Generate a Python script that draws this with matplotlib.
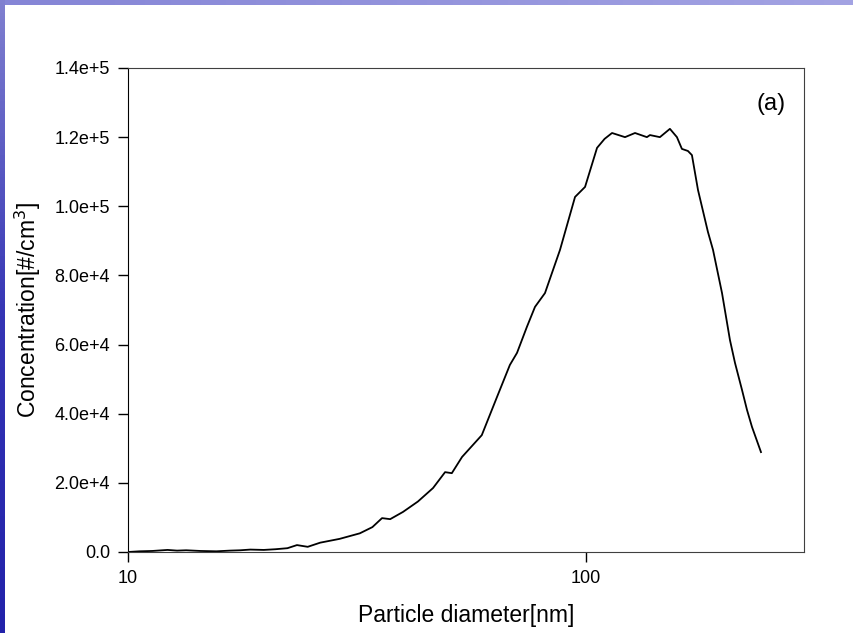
import numpy as np
import matplotlib
matplotlib.use("Agg")
import matplotlib.pyplot as plt

plt.rcParams["font.family"] = ["Liberation Sans", "DejaVu Sans"]

# size distribution
diameter_nm = [10.0, 10.6, 11.3, 12.2, 12.8, 13.4, 14.4, 15.6, 16.7, 17.6,
               18.5, 19.8, 21.0, 22.3, 23.4, 24.7, 26.3, 29.0, 32.1, 34.2,
               35.9, 37.4, 39.9, 43.0, 46.4, 49.3, 51.0, 53.7, 59.3, 64.0,
               68.3, 70.8, 74.4, 77.5, 81.5, 87.9, 94.8, 99.7, 105.9, 110.0,
               114.2, 121.9, 128.2, 136.1, 138.2, 145.3, 152.8, 158.3, 162.3, 167.3,
               170.7, 176.0, 185.0, 189.8, 198.6, 206.7, 212.0, 219.6, 225.2, 230.9,
               241.6]
concentration = [0, 200, 300, 600, 400, 500, 300, 200, 400, 500,
                 700, 600, 800, 1100, 2000, 1500, 2700, 3800, 5400, 7200,
                 9800, 9500, 11600, 14600, 18500, 23100, 22800, 27500, 33800, 44800,
                 54100, 57600, 65100, 70900, 74900, 87400, 102700, 105600, 116900, 119500,
                 121200, 120000, 121200, 120000, 120600, 120000, 122400, 120000, 116600, 116000,
                 114800, 104700, 92600, 87400, 74900, 61300, 54700, 46900, 41100, 36200,
                 28900]

ytick_vals = [0, 20000, 40000, 60000, 80000, 100000, 120000, 140000]
ytick_labels = ["0.0", "2.0e+4", "4.0e+4", "6.0e+4", "8.0e+4", "1.0e+5", "1.2e+5", "1.4e+5"]
xtick_vals = [10, 100]
xtick_labels = ["10", "100"]

fig = plt.figure(figsize=(8.54, 6.33), dpi=100)
fig.patch.set_facecolor("white")

# slide background strips (top and left edges)
top_ax = fig.add_axes([0, 1 - 5 / 633, 1, 5 / 633])
top_ax.imshow(np.linspace(0, 1, 200)[None, :], aspect="auto",
              cmap=matplotlib.colors.LinearSegmentedColormap.from_list("t", ["#8585d6", "#a3a3e3"]))
top_ax.axis("off")
left_ax = fig.add_axes([0, 0, 5 / 854, 1])
left_ax.imshow(np.linspace(0, 1, 200)[:, None], aspect="auto",
               cmap=matplotlib.colors.LinearSegmentedColormap.from_list("l", ["#8080d0", "#3535b5", "#2222aa"]))
left_ax.axis("off")

ax = fig.add_axes([128 / 854, 1 - 552 / 633, 676 / 854, 484 / 633])
ax.plot(diameter_nm, concentration, color="black", lw=1.3)
ax.set_xscale("log")
ax.set_xlim(10, 300)
ax.set_ylim(0, 140000)
ax.set_xticks(xtick_vals)
ax.set_xticklabels(xtick_labels)
ax.xaxis.set_minor_locator(matplotlib.ticker.NullLocator())
ax.set_yticks(ytick_vals)
ax.set_yticklabels(ytick_labels)
ax.tick_params(direction="out", length=7, width=1, labelsize=13, pad=6)

for side in ["top", "right", "bottom"]:
    ax.spines[side].set_color("#404040")
ax.spines["left"].set_color("black")

ax.set_xlabel("Particle diameter[nm]", fontsize=16.5, labelpad=12)
ax.set_ylabel("Concentration[#/cm$^3$]", fontsize=16.5, labelpad=8)
ax.text(0.973, 0.925, "(a)", transform=ax.transAxes, ha="right", va="center", fontsize=17)

fig.savefig("out.png", dpi=100)
